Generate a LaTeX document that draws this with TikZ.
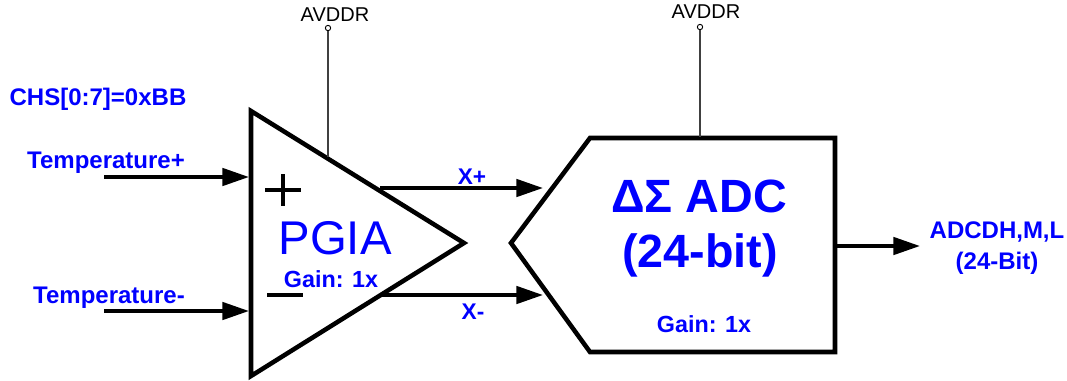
\documentclass[tikz,border=0pt]{standalone}
\usepackage{fontspec}
\setmainfont{Liberation Sans}
\usepackage{xcolor}
\usepackage{tikz}
\usetikzlibrary{arrows.meta}
\definecolor{labelblue}{RGB}{0,0,255}
\tikzset{
    blocktext/.style={text=labelblue,font=\bfseries\fontsize{#1}{#1}\selectfont,align=center,inner sep=0pt},
    block/.style={line width=3.4pt,line join=miter,fill=white},
    signal/.style={line width=2.8pt,-{Triangle[length=20pt,width=13pt]}},
    supply/.style={line width=0.8pt,darkgray},
    supplypin/.style={circle,draw,line width=0.7pt,fill=white,inner sep=0pt,minimum size=4pt},
    supplytext/.style={font=\fontsize{15}{15}\selectfont,inner sep=0pt},
    sign/.style={line width=2.8pt}
}
\begin{document}
\begin{tikzpicture}[x=0.75pt,y=-0.75pt]
\useasboundingbox (0,0) rectangle (1067,380);
% amplifier and converter
\draw[block] (251,111) -- (464,243) -- (251,376) -- cycle;
\draw[block] (511,243) -- (590,138) -- (835,138) -- (835,352) -- (590,352) -- cycle;
% supply pins
\node[supplytext] (avddra) at (335,15) {AVDDR};
\node[supplytext] (avddrb) at (706,12) {AVDDR};
\node[supplypin] (pina) at (328,28) {};
\node[supplypin] (pinb) at (700,27) {};
\coordinate (pgiatop) at (328,157);
\coordinate (adctop) at (700,137);
\draw[supply] (pina) -- (pgiatop);
\draw[supply] (pinb) -- (adctop);
% inputs
\coordinate (inpstart) at (104,177);
\coordinate (inpend) at (249,177);
\coordinate (innstart) at (104,311);
\coordinate (innend) at (249,311);
\draw[signal] (inpstart) -- (inpend);
\draw[signal] (innstart) -- (innend);
% between the blocks
\coordinate (xpstart) at (380,188);
\coordinate (xpend) at (543,188);
\coordinate (xnstart) at (380,295);
\coordinate (xnend) at (543,295);
\draw[signal] (xpstart) -- (xpend);
\draw[signal] (xnstart) -- (xnend);
% output
\coordinate (outstart) at (836,246);
\coordinate (outend) at (920,246);
\draw[signal] (outstart) -- (outend);
% plus and minus
\coordinate (plusl) at (265,190);
\coordinate (plusr) at (301,190);
\coordinate (plust) at (283,174);
\coordinate (plusb) at (283,206);
\coordinate (minusl) at (267,295);
\coordinate (minusr) at (303,295);
\draw[sign] (plusl) -- (plusr);
\draw[sign] (plust) -- (plusb);
\draw[sign] (minusl) -- (minusr);
% labels
\node[blocktext=18] (chs) at (98,99) {CHS[0:7]=0xBB};
\node[blocktext=18] (tempp) at (106,163) {Temperature+};
\node[blocktext=18] (tempn) at (109,298) {Temperature-};
\node[blocktext=17] (xp) at (472,177) {X+};
\node[blocktext=17] (xn) at (473,312) {X-};
\node[blocktext=35,font=\fontsize{35.5}{35.5}\selectfont] (pgia) at (335,238) {PGIA};
\node[blocktext=17.5] (gaina) at (331,279) {Gain: 1x};
\node[blocktext=35] (adc) at (699,196) {ΔΣ ADC};
\node[blocktext=35] (bits) at (700,255) {(24-bit)};
\node[blocktext=17.5] (gainb) at (704,324) {Gain: 1x};
\node[blocktext=18] (adcout) at (997,232) {ADCDH,M,L};
\node[blocktext=18] (adcbits) at (997,263) {(24-Bit)};
\end{tikzpicture}
\end{document}
